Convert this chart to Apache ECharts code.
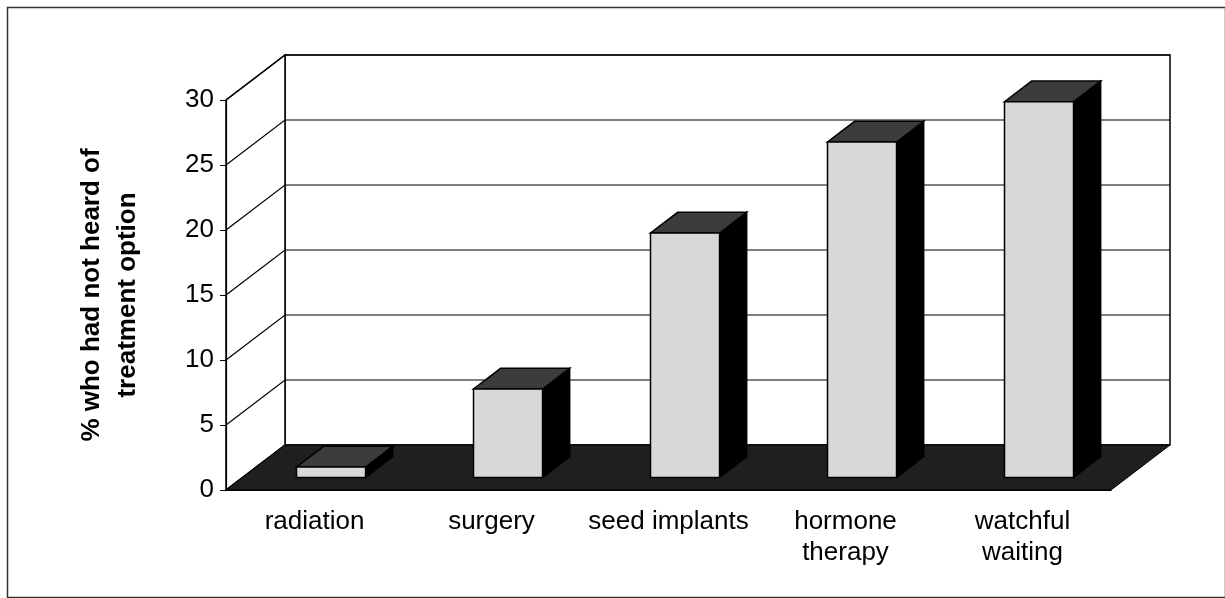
<!DOCTYPE html>
<html>
<head>
<meta charset="utf-8">
<title>treatment option</title>
<script src="https://cdn.jsdelivr.net/npm/echarts@6/dist/echarts.min.js"></script>
<style>
    html, body { margin: 0; padding: 0; background: #fff; }
    #mychart1 { width: 1225px; height: 598px; }
</style>
</head>
<body>
<div id="mychart1"></div>
<script>
var categoryArry = ['radiation', 'surgery', 'seed implants', 'hormone\ntherapy', 'watchful\nwaiting'];
var valueArry = [0.8, 6.8, 18.8, 25.8, 28.9];
var tickArry = [0, 5, 10, 15, 20, 25, 30];
var axisTitle = '% who had not heard of\ntreatment option';

//3D偏移量（像素）
var DEPTH_X = 59, DEPTH_Y = -45;
var BAR_FRONT = 0.28, BAR_DEPTH = 0.46, BAR_WIDTH = 0.39;
var FONT = '"Liberation Sans", Arial, sans-serif';

function $each(arr, fn) {
    for (var i = 0; i < arr.length; i++) fn(arr[i], i);
}

//墙面、地板、网格线
function renderFrame(params, api) {
    var band = api.size([1, 0])[0];
    var x0 = api.coord([0, 0])[0] - band / 2;
    var x1 = api.coord([categoryArry.length - 1, 0])[0] + band / 2;
    var yb = api.coord([0, tickArry[0]])[1];
    var yt = api.coord([0, tickArry[tickArry.length - 1]])[1];
    var children = [];
    //后墙
    children.push({
        type: 'rect',
        shape: { x: x0 + DEPTH_X, y: yt + DEPTH_Y, width: x1 - x0, height: yb - yt },
        style: { fill: '#fff', stroke: '#000', lineWidth: 1.5 }
    });
    //左墙
    children.push({
        type: 'polygon',
        shape: { points: [[x0, yt], [x0 + DEPTH_X, yt + DEPTH_Y], [x0 + DEPTH_X, yb + DEPTH_Y], [x0, yb]] },
        style: { fill: '#fff', stroke: '#000', lineWidth: 1.5 }
    });
    //网格线（左墙斜线 + 后墙横线）
    $each(tickArry, function (v) {
        var y = api.coord([0, v])[1];
        children.push({
            type: 'polyline',
            shape: { points: [[x0, y], [x0 + DEPTH_X, y + DEPTH_Y], [x1 + DEPTH_X, y + DEPTH_Y]] },
            style: { fill: null, stroke: '#000', lineWidth: 1.2 }
        });
    });
    //地板
    children.push({
        type: 'polygon',
        shape: { points: [[x0, yb], [x1, yb], [x1 + DEPTH_X, yb + DEPTH_Y], [x0 + DEPTH_X, yb + DEPTH_Y]] },
        style: { fill: '#1f1f1f', stroke: '#000', lineWidth: 1 }
    });
    return { type: 'group', children: children };
}

//立体柱子
function renderBar(params, api) {
    var cat = api.value(0);
    var base = api.coord([cat, 0]);
    var top = api.coord([cat, api.value(1)]);
    var band = api.size([1, 0])[0];
    var w = band * BAR_WIDTH;
    var dx = DEPTH_X * BAR_DEPTH, dy = DEPTH_Y * BAR_DEPTH;
    var fx = base[0] + DEPTH_X * BAR_FRONT - w / 2;
    var by = base[1] + DEPTH_Y * BAR_FRONT;
    var ty = top[1] + DEPTH_Y * BAR_FRONT;
    return {
        type: 'group',
        children: [
            {
                type: 'polygon',
                shape: { points: [[fx + w, ty], [fx + w + dx, ty + dy], [fx + w + dx, by + dy], [fx + w, by]] },
                style: { fill: '#000', stroke: '#000', lineWidth: 1.5 }
            },
            {
                type: 'polygon',
                shape: { points: [[fx, ty], [fx + w, ty], [fx + w + dx, ty + dy], [fx + dx, ty + dy]] },
                style: { fill: '#3c3c3c', stroke: '#000', lineWidth: 1.5 }
            },
            {
                type: 'rect',
                shape: { x: fx, y: ty, width: w, height: by - ty },
                style: { fill: '#d8d8d8', stroke: '#000', lineWidth: 1.5 }
            }
        ]
    };
}

var myChart = echarts.init(document.getElementById('mychart1'), null, { renderer: 'canvas' });
var barData = [];
$each(valueArry, function (v, i) { barData.push([i, v]); });

var option = {
    animation: false,
    backgroundColor: '#fff',
    graphic: [{
        type: 'rect',
        left: 5, top: 5,
        shape: { width: 1218, height: 590 },
        style: { fill: 'none', stroke: '#333', lineWidth: 1.5 }
    }],
    grid: {
        left: 226,
        top: 100,
        width: 885,
        height: 390
    },
    xAxis: {
        type: 'category',
        data: categoryArry,
        z: 5,
        axisLine: { lineStyle: { color: '#000', width: 1.2 } },
        axisTick: { length: 10, lineStyle: { color: '#000' } },
        axisLabel: { color: '#000', fontSize: 26, fontFamily: FONT, lineHeight: 31, margin: 16, interval: 0 }
    },
    yAxis: {
        type: 'value',
        min: 0,
        max: 30,
        interval: 5,
        z: 5,
        name: axisTitle,
        nameLocation: 'middle',
        nameGap: 80,
        nameTextStyle: { color: '#000', fontSize: 26, fontWeight: 'bold', fontFamily: FONT, lineHeight: 36 },
        axisLine: { show: true, lineStyle: { color: '#000', width: 1.2 } },
        axisTick: { show: true, length: 6, lineStyle: { color: '#000' } },
        axisLabel: { color: '#000', fontSize: 26, fontFamily: FONT, margin: 12 },
        splitLine: { show: false }
    },
    series: [
        {
            name: 'frame',
            type: 'custom',
            renderItem: renderFrame,
            data: [[0, 0]],
            clip: false,
            z: 1,
            silent: true
        },
        {
            name: 'bars',
            type: 'custom',
            renderItem: renderBar,
            data: barData,
            clip: false,
            z: 2
        }
    ]
};
myChart.setOption(option);
</script>
</body>
</html>
